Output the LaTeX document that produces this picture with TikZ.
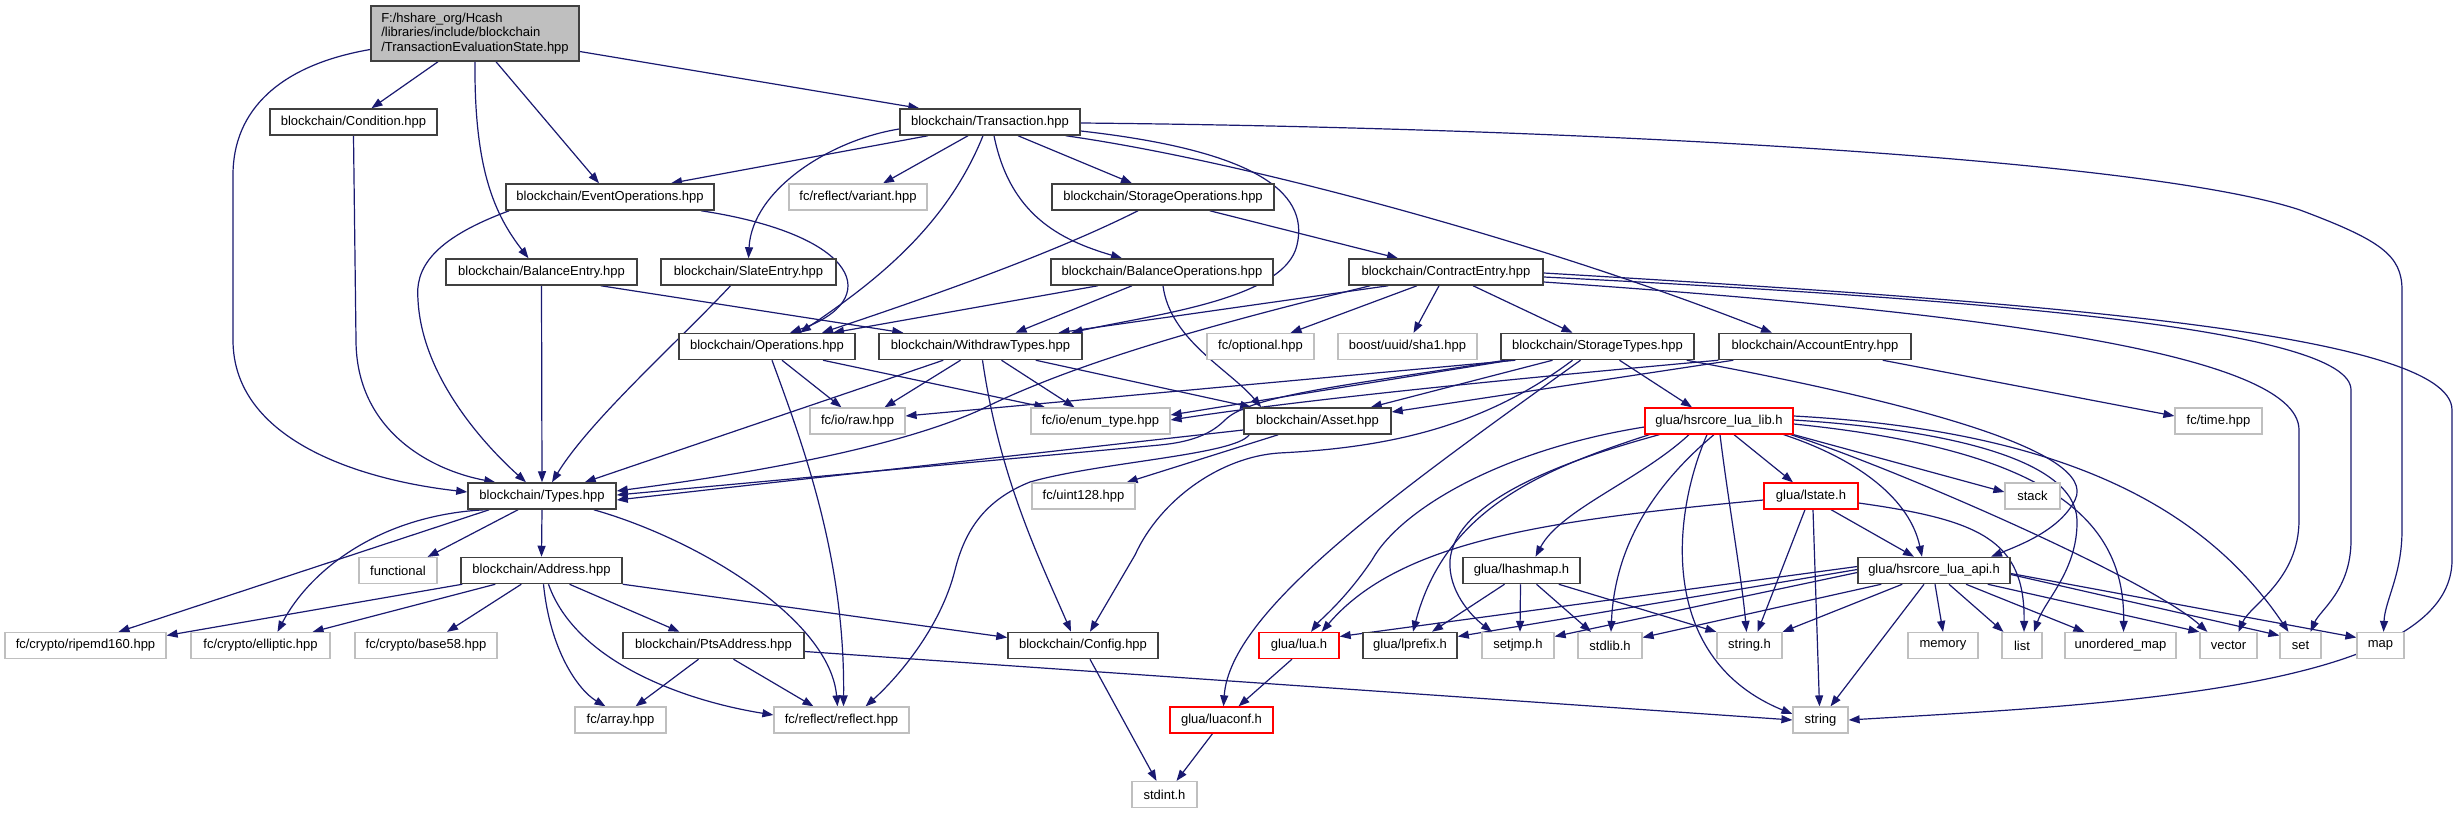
\documentclass[tikz,border=0pt]{standalone}
\usepackage{fontspec}
\setmainfont{Liberation Sans}
\usetikzlibrary{arrows.meta,calc}
\pgfdeclarelayer{back}
\pgfdeclarelayer{edges}
\pgfsetlayers{back,edges,main}
\definecolor{edgec}{HTML}{191970}
\definecolor{bdark}{HTML}{404040}
\definecolor{bgray}{HTML}{BFBFBF}
\definecolor{bred}{HTML}{FF0000}
\begin{document}
\begin{tikzpicture}[x=1pt,y=-1pt,
  every node/.style={font=\fontsize{13}{14.7}\selectfont, inner sep=0pt, minimum height=26pt, rectangle, fill=white, text=black},
  nblk/.style={draw=bdark, line width=1.5pt},
  ngray/.style={draw=bgray, line width=1.2pt},
  nred/.style={draw=bred, line width=1.3pt},
  ntes/.style={draw=bdark, line width=1.5pt, fill=bgray, align=left, minimum height=55pt},
  conn/.style={draw=edgec, line width=1.2pt, -{Triangle[length=11pt,width=8pt]}}]
\begin{pgfonlayer}{back}
\fill[white] (0,0) rectangle (2458,813);
\end{pgfonlayer}
\useasboundingbox (0,0) rectangle (2458,813);

% ---------- nodes ----------
\node[ntes, minimum width=208pt] (tes) at (475,33.5) {F:/hshare\_org/Hcash\\/libraries/include/blockchain\\/TransactionEvaluationState.hpp};
\node[nblk, minimum width=167pt] (cond) at (353.5,122) {blockchain/Condition.hpp};
\node[nblk, minimum width=180pt] (trans) at (990,122) {blockchain/Transaction.hpp};
\node[nblk, minimum width=208pt] (evop) at (610,197) {blockchain/EventOperations.hpp};
\node[ngray, minimum width=138pt] (variant) at (858,197) {fc/reflect/variant.hpp};
\node[nblk, minimum width=222pt] (storop) at (1163,197) {blockchain/StorageOperations.hpp};
\node[nblk, minimum width=191pt] (balent) at (541.5,272) {blockchain/BalanceEntry.hpp};
\node[nblk, minimum width=175pt] (slate) at (748.5,272) {blockchain/SlateEntry.hpp};
\node[nblk, minimum width=222pt] (balop) at (1162,272) {blockchain/BalanceOperations.hpp};
\node[nblk, minimum width=194pt] (contract) at (1446,272) {blockchain/ContractEntry.hpp};
\node[nblk, minimum width=176pt] (ops) at (767,346.5) {blockchain/Operations.hpp};
\node[nblk, minimum width=203pt] (withdraw) at (980.5,346.5) {blockchain/WithdrawTypes.hpp};
\node[ngray, minimum width=107pt] (optional) at (1260.5,346.5) {fc/optional.hpp};
\node[ngray, minimum width=139pt] (sha1) at (1407.5,346.5) {boost/uuid/sha1.hpp};
\node[nblk, minimum width=193pt] (stortypes) at (1597.5,346.5) {blockchain/StorageTypes.hpp};
\node[nblk, minimum width=192pt] (account) at (1815,346.5) {blockchain/AccountEntry.hpp};
\node[ngray, minimum width=95pt] (raw) at (857.5,421) {fc/io/raw.hpp};
\node[ngray, minimum width=139pt] (enum) at (1100.5,421) {fc/io/enum\_type.hpp};
\node[nblk, minimum width=147pt] (asset) at (1317.5,421) {blockchain/Asset.hpp};
\node[nred, minimum width=148pt] (lualib) at (1719,421) {glua/hsrcore\_lua\_lib.h};
\node[ngray, minimum width=87pt] (time) at (2218.5,421) {fc/time.hpp};
\node[nblk, minimum width=148pt] (types) at (542,496) {blockchain/Types.hpp};
\node[ngray, minimum width=103pt] (uint128) at (1083.5,496) {fc/uint128.hpp};
\node[nred, minimum width=94pt] (lstate) at (1811,496) {glua/lstate.h};
\node[ngray, minimum width=55pt] (stack) at (2032.5,496) {stack};
\node[ngray, minimum width=78pt] (functional) at (398,570.5) {functional};
\node[nblk, minimum width=161pt] (address) at (541.5,570.5) {blockchain/Address.hpp};
\node[nblk, minimum width=117pt] (lhashmap) at (1521.5,570.5) {glua/lhashmap.h};
\node[nblk, minimum width=152pt] (luaapi) at (1934,570.5) {glua/hsrcore\_lua\_api.h};
\node[ngray, minimum width=161pt] (ripemd) at (85.5,645.5) {fc/crypto/ripemd160.hpp};
\node[ngray, minimum width=139pt] (elliptic) at (260.5,645.5) {fc/crypto/elliptic.hpp};
\node[ngray, minimum width=142pt] (base58) at (426,645.5) {fc/crypto/base58.hpp};
\node[nblk, minimum width=181pt] (pts) at (713.5,645.5) {blockchain/PtsAddress.hpp};
\node[nblk, minimum width=150pt] (config) at (1083,645.5) {blockchain/Config.hpp};
\node[nred, minimum width=80pt] (lua) at (1299,645.5) {glua/lua.h};
\node[nblk, minimum width=94pt] (lprefix) at (1410,645.5) {glua/lprefix.h};
\node[ngray, minimum width=72pt] (setjmp) at (1518,645.5) {setjmp.h};
\node[ngray, minimum width=64pt] (stdlib) at (1610,645.5) {stdlib.h};
\node[ngray, minimum width=65pt] (stringh) at (1749.5,645.5) {string.h};
\node[ngray, minimum width=70pt] (memory) at (1943,645.5) {memory};
\node[ngray, minimum width=40pt] (list) at (2022,645.5) {list};
\node[ngray, minimum width=111pt] (umap) at (2120.5,645.5) {unordered\_map};
\node[ngray, minimum width=57pt] (vector) at (2228.5,645.5) {vector};
\node[ngray, minimum width=41pt] (set) at (2300.5,645.5) {set};
\node[ngray, minimum width=47pt] (map) at (2380.5,645.5) {map};
\node[ngray, minimum width=91pt] (array) at (620.5,720) {fc/array.hpp};
\node[ngray, minimum width=135pt] (reflect) at (841.5,720) {fc/reflect/reflect.hpp};
\node[nred, minimum width=103pt] (luaconf) at (1221.5,720) {glua/luaconf.h};
\node[ngray, minimum width=55pt] (string) at (1820.5,720) {string};
\node[ngray, minimum width=65pt] (stdint) at (1164.5,794.5) {stdint.h};

% ---------- edges ----------
\begin{pgfonlayer}{edges}
% TransactionEvaluationState
\draw[conn] ($(tes.west)+(0,16)$) .. controls (280,65) and (233,110) .. (233,175) -- (233,340) .. controls (233,440) and (360,480) .. ($(types.west)+(0,-4)$);
\draw[conn] ($(tes.south)+(-37,0)$) -- ($(cond.north)+(18,0)$);
\draw[conn] (tes.south) .. controls (474,170) and (495,215) .. ($(balent.north)+(-13,0)$);
\draw[conn] ($(tes.south)+(21,0)$) -- ($(evop.north)+(-11,0)$);
\draw[conn] ($(tes.east)+(0,18)$) -- ($(trans.north west)+(20,0)$);
% Condition
\draw[conn] (cond.south) -- (356,340) .. controls (356,430) and (430,470) .. ($(types.north west)+(28,0)$);
% Transaction
\draw[conn] ($(trans.south)+(-62,0)$) -- ($(evop.north)+(61,0)$);
\draw[conn] ($(trans.south)+(-22,0)$) -- ($(variant.north)+(25,0)$);
\draw[conn] ($(trans.west)+(0,7)$) .. controls (830,140) and (752,190) .. (slate.north);
\draw[conn] ($(trans.south)+(-7,0)$) .. controls (945,230) and (870,285) .. ($(ops.north)+(33,0)$);
\draw[conn] ($(trans.south)+(4,0)$) .. controls (1010,215) and (1060,240) .. ($(balop.north)+(-40,0)$);
\draw[conn] ($(trans.south)+(28,0)$) -- ($(storop.north)+(-31,0)$);
\draw[conn] ($(trans.east)+(0,1)$) .. controls (1600,128) and (2150,160) .. (2300,210) .. controls (2380,240) and (2402,255) .. (2402,290) -- (2402,530) .. controls (2402,575) and (2385,600) .. ($(map.north)+(3,0)$);
\draw[conn] ($(trans.east)+(0,9)$) .. controls (1250,150) and (1310,190) .. (1297,245) .. controls (1285,300) and (1150,315) .. ($(withdraw.north)+(91,0)$);
\draw[conn] ($(trans.south east)+(-15,0)$) .. controls (1250,162) and (1550,245) .. ($(account.north)+(-43,0)$);
% EventOperations
\draw[conn] ($(evop.south west)+(4,0)$) .. controls (430,240) and (415,270) .. (418,300) .. controls (422,380) and (490,450) .. ($(types.north)+(-16,0)$);
\draw[conn] ($(evop.south)+(91,0)$) .. controls (860,235) and (885,300) .. ($(ops.north)+(23,0)$);
% BalanceEntry
\draw[conn] (balent.south) -- (types.north);
\draw[conn] ($(balent.south east)+(-37,0)$) -- ($(withdraw.north west)+(25,0)$);
% SlateEntry
\draw[conn] ($(slate.south)+(-18,0)$) .. controls (680,340) and (590,420) .. ($(types.north)+(10,0)$);
% StorageOperations
\draw[conn] ($(storop.south east)+(-65,0)$) -- ($(contract.north)+(-48,0)$);
\draw[conn] ($(storop.south)+(-25,0)$) .. controls (1060,250) and (950,290) .. ($(ops.north)+(55,0)$);
% BalanceOperations
\draw[conn] ($(balop.south)+(-64,0)$) -- ($(ops.north)+(66,0)$);
\draw[conn] ($(balop.south)+(-30,0)$) -- ($(withdraw.north)+(35,0)$);
\draw[conn] ($(balop.south)+(1,0)$) .. controls (1170,340) and (1230,370) .. ($(asset.north west)+(18,0)$);
% ContractEntry
\draw[conn] ($(contract.south west)+(40,0)$) -- ($(withdraw.north)+(78,0)$);
\draw[conn] ($(contract.south west)+(22,0)$) .. controls (1230,320) and (1080,360) .. (980,410) .. controls (880,455) and (700,480) .. ($(types.east)+(0,-5)$);
\draw[conn] ($(contract.south)+(-29,0)$) -- ($(optional.north)+(30,0)$);
\draw[conn] ($(contract.south)+(-7,0)$) -- ($(sha1.north)+(6,0)$);
\draw[conn] ($(contract.south)+(27,0)$) -- ($(stortypes.north)+(-25,0)$);
\draw[conn] ($(contract.east)+(0,10)$) .. controls (1950,310) and (2299,350) .. (2299,430) -- (2299,520) .. controls (2299,580) and (2250,605) .. ($(vector.north)+(10,0)$);
\draw[conn] ($(contract.east)+(0,5)$) .. controls (2000,300) and (2351,330) .. (2351,390) -- (2351,540) .. controls (2351,590) and (2320,610) .. ($(set.north)+(10,0)$);
\draw[conn] ($(contract.east)+(0,1)$) .. controls (2000,300) and (2452,330) .. (2452,410) -- (2452,560) .. controls (2452,690) and (2100,705) .. (string.east);
% StorageTypes
\draw[conn] ($(stortypes.south west)+(15,0)$) -- ($(raw.east)+(0,-5)$);
\draw[conn] ($(stortypes.south west)+(10,0)$) -- ($(enum.east)+(0,-6)$);
\draw[conn] ($(stortypes.south west)+(5,0)$) .. controls (1350,385) and (1250,395) .. (1225,420) .. controls (1210,435) and (1190,442) .. (1160,445) -- ($(types.east)+(0,-1)$);
\draw[conn] ($(stortypes.south)+(-45,0)$) -- ($(asset.north east)+(-21,0)$);
\draw[conn] ($(stortypes.south)+(-25,0)$) .. controls (1480,430) and (1380,448) .. (1279,453) .. controls (1220,457) and (1160,500) .. (1135,555) -- ($(config.north)+(7,0)$);
\draw[conn] ($(stortypes.south)+(-17,0)$) .. controls (1400,490) and (1230,610) .. ($(luaconf.north)+(2,0)$);
\draw[conn] ($(stortypes.south)+(22,0)$) -- ($(lualib.north)+(-27,0)$);
\draw[conn] ($(stortypes.south east)+(-8,0)$) .. controls (1900,400) and (2100,450) .. (2075,500) .. controls (2060,530) and (2020,545) .. ($(luaapi.north)+(57,0)$);
% AccountEntry
\draw[conn] ($(account.south east)+(-29,0)$) -- ($(time.west)+(0,-5)$);
\draw[conn] ($(account.south west)+(15,0)$) -- ($(asset.east)+(0,-9)$);
\draw[conn] (account.south west) .. controls (1500,380) and (1300,400) .. ($(enum.east)+(0,-1)$);
% Asset
\draw[conn] ($(asset.west)+(0,9)$) -- ($(types.east)+(0,4)$);
\draw[conn] ($(asset.south west)+(35,0)$) -- ($(uint128.north east)+(-9,0)$);
\draw[conn] ($(asset.south west)+(6,0)$) .. controls (1235,455) and (1100,462) .. (1030,482) .. controls (985,500) and (965,530) .. (955,570) .. controls (940,630) and (895,680) .. ($(reflect.north)+(24,0)$);
% Types
\draw[conn] ($(types.south west)+(22,0)$) -- ($(ripemd.north)+(33,0)$);
\draw[conn] ($(types.south west)+(18,0)$) .. controls (380,515) and (310,570) .. ($(elliptic.north)+(17,0)$);
\draw[conn] ($(types.south)+(-24,0)$) -- ($(functional.north east)+(-10,0)$);
\draw[conn] (types.south) -- (address.north);
\draw[conn] ($(types.south east)+(-23,0)$) .. controls (700,540) and (830,620) .. ($(reflect.north)+(-4,0)$);
% Address
\draw[conn] ($(address.south west)+(2,0)$) -- ($(ripemd.east)+(0,-10)$);
\draw[conn] ($(address.south west)+(35,0)$) -- ($(elliptic.north east)+(-18,0)$);
\draw[conn] ($(address.south west)+(61,0)$) -- ($(base58.north)+(21,0)$);
\draw[conn] ($(address.south)+(2,0)$) .. controls (550,650) and (578,690) .. ($(array.north)+(-15,0)$);
\draw[conn] ($(address.south)+(7,0)$) .. controls (575,660) and (680,700) .. ($(reflect.west)+(0,-5)$);
\draw[conn] ($(address.south)+(28,0)$) -- ($(pts.north)+(-34,0)$);
\draw[conn] (address.south east) -- ($(config.west)+(0,-8)$);
% PtsAddress
\draw[conn] ($(pts.south)+(-15,0)$) -- ($(array.north)+(15,0)$);
\draw[conn] ($(pts.south)+(20,0)$) -- ($(reflect.north)+(-28,0)$);
\draw[conn] ($(pts.east)+(0,6)$) -- (string.west);
% Operations
\draw[conn] ($(ops.south)+(15,0)$) -- ($(raw.north)+(-16,0)$);
\draw[conn] ($(ops.south)+(56,0)$) -- ($(enum.north west)+(15,0)$);
\draw[conn] ($(ops.south)+(5,0)$) .. controls (805,450) and (845,560) .. ($(reflect.north)+(2,0)$);
% WithdrawTypes
\draw[conn] ($(withdraw.south west)+(65,0)$) -- ($(types.north east)+(-32,0)$);
\draw[conn] ($(withdraw.south)+(-20,0)$) -- ($(raw.north)+(27,0)$);
\draw[conn] ($(withdraw.south)+(2,0)$) .. controls (1000,480) and (1040,560) .. ($(config.north)+(-12,0)$);
\draw[conn] ($(withdraw.south)+(21,0)$) -- ($(enum.north)+(-26,0)$);
\draw[conn] ($(withdraw.south east)+(-47,0)$) -- ($(asset.north west)+(8,0)$);
% hsrcore_lua_lib
\draw[conn] ($(lualib.south)+(15,0)$) -- ($(lstate.north)+(-18,0)$);
\draw[conn] (lualib.south east) -- ($(stack.west)+(0,-4)$);
\draw[conn] ($(lualib.south)+(-30,0)$) .. controls (1640,480) and (1560,510) .. ($(lhashmap.north)+(14,0)$);
\draw[conn] ($(lualib.west)+(0,6)$) .. controls (1500,450) and (1400,510) .. (1372,560) .. controls (1345,600) and (1320,620) .. ($(lua.north)+(12,0)$);
\draw[conn] ($(lualib.south west)+(5,0)$) .. controls (1540,470) and (1445,510) .. ($(lprefix.north)+(3,0)$);
\draw[conn] ($(lualib.south west)+(15,0)$) .. controls (1530,470) and (1455,510) .. (1450,560) .. controls (1448,590) and (1470,615) .. ($(setjmp.north)+(-26,0)$);
\draw[conn] ($(lualib.south)+(-5,0)$) .. controls (1660,480) and (1615,540) .. ($(stdlib.north)+(1,0)$);
\draw[conn] ($(lualib.south)+(1,0)$) .. controls (1728,500) and (1742,580) .. ($(stringh.north)+(-3,0)$);
\draw[conn] ($(lualib.south)+(-12,0)$) .. controls (1670,520) and (1660,660) .. ($(string.west)+(0,-6)$);
\draw[conn] ($(lualib.south east)+(-10,0)$) .. controls (1860,460) and (1910,500) .. ($(luaapi.north)+(-12,0)$);
\draw[conn] ($(lualib.east)+(0,-1)$) .. controls (1950,430) and (2075,460) .. (2077,520) .. controls (2078,570) and (2045,600) .. ($(list.north)+(12,0)$);
\draw[conn] ($(lualib.east)+(0,3)$) .. controls (2050,450) and (2125,520) .. ($(umap.north)+(3,0)$);
\draw[conn] ($(lualib.south east)+(-3,0)$) .. controls (1900,470) and (2150,580) .. ($(vector.north west)+(8,0)$);
\draw[conn] ($(lualib.east)+(0,-5)$) .. controls (2050,430) and (2200,500) .. ($(set.north)+(-12,0)$);
% lstate
\draw[conn] ($(lstate.west)+(0,4)$) .. controls (1550,520) and (1400,540) .. ($(lua.north east)+(-18,0)$);
\draw[conn] ($(lstate.south)+(-6,0)$) -- ($(stringh.north)+(8,0)$);
\draw[conn] ($(lstate.south)+(2,0)$) -- ($(string.north)+(-1,0)$);
\draw[conn] ($(lstate.south)+(20,0)$) -- ($(luaapi.north)+(-20,0)$);
\draw[conn] ($(lstate.east)+(0,7)$) .. controls (1980,520) and (2025,540) .. ($(list.north)+(2,0)$);
% lhashmap
\draw[conn] ($(lhashmap.south)+(-17,0)$) -- ($(lprefix.north)+(22,0)$);
\draw[conn] ($(lhashmap.south)+(-1,0)$) -- ($(setjmp.north)+(2,0)$);
\draw[conn] ($(lhashmap.south)+(15,0)$) -- ($(stdlib.north)+(-19,0)$);
\draw[conn] ($(lhashmap.south east)+(-22,0)$) -- (stringh.north west);
% hsrcore_lua_api
\draw[conn] ($(luaapi.west)+(0,-4)$) -- ($(lua.east)+(0,-9)$);
\draw[conn] ($(luaapi.west)+(0,-1)$) -- ($(lprefix.east)+(0,-9)$);
\draw[conn] ($(luaapi.west)+(0,2)$) -- ($(setjmp.east)+(0,-9)$);
\draw[conn] ($(luaapi.south west)+(24,0)$) -- ($(stdlib.east)+(0,-8)$);
\draw[conn] ($(luaapi.south west)+(45,0)$) -- (stringh.north east);
\draw[conn] ($(luaapi.south)+(-10,0)$) -- ($(string.north)+(10,0)$);
\draw[conn] ($(luaapi.south)+(1,0)$) -- (memory.north);
\draw[conn] ($(luaapi.south)+(15,0)$) -- ($(list.north west)+(2,0)$);
\draw[conn] ($(luaapi.south)+(32,0)$) -- ($(umap.north west)+(20,0)$);
\draw[conn] ($(luaapi.south east)+(-23,0)$) -- (vector.north west);
\draw[conn] ($(luaapi.east)+(0,4)$) -- ($(set.west)+(0,-10)$);
\draw[conn] ($(luaapi.east)+(0,3)$) -- ($(map.west)+(0,-8)$);
% lua, luaconf, config
\draw[conn] ($(lua.south)+(-7,0)$) -- ($(luaconf.north)+(17,0)$);
\draw[conn] ($(luaconf.south)+(-9,0)$) -- ($(stdint.north)+(12,0)$);
\draw[conn] ($(config.south)+(7,0)$) -- ($(stdint.north)+(-8,0)$);
\end{pgfonlayer}
\end{tikzpicture}
\end{document}
